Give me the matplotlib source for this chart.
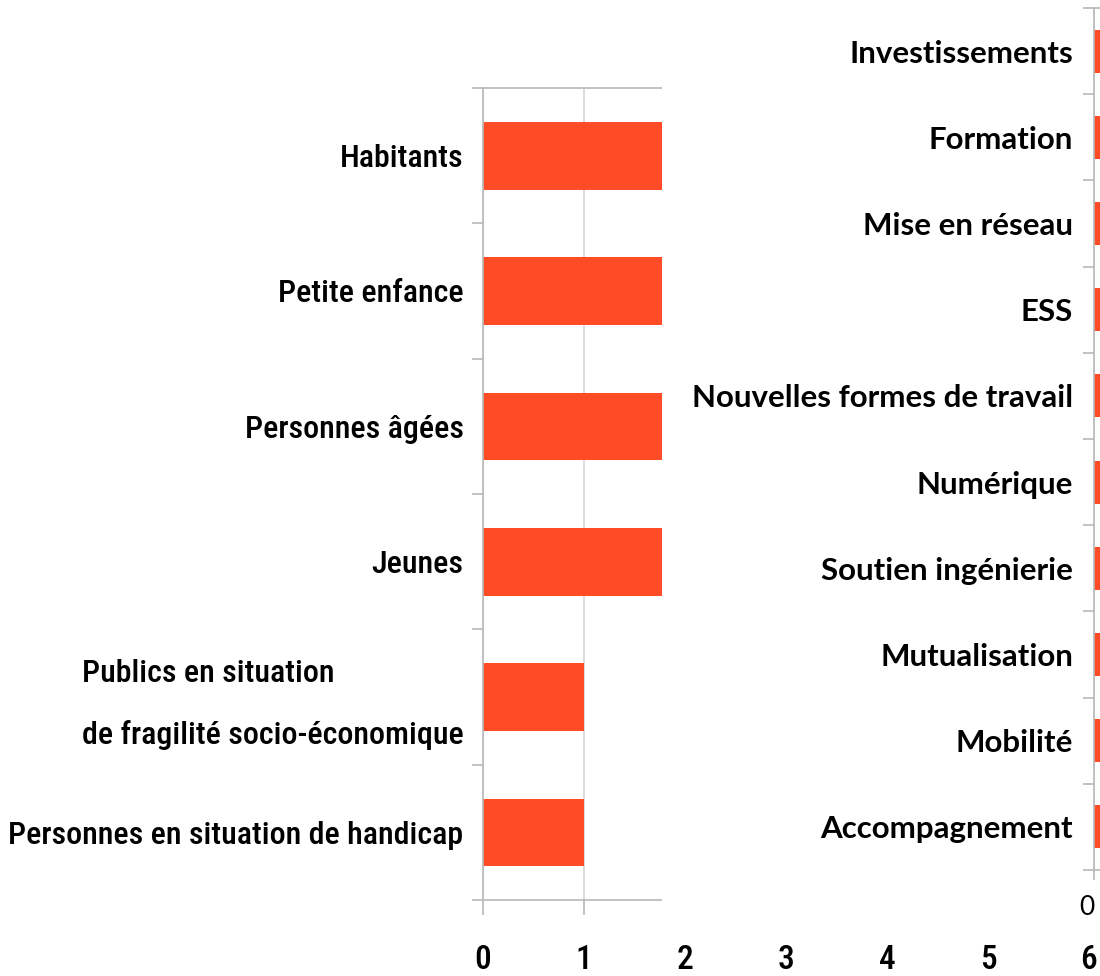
import matplotlib
matplotlib.use('Agg')
import matplotlib.pyplot as plt
from matplotlib.patches import Rectangle
from matplotlib.transforms import ScaledTranslation
import numpy as np

# left chart: publics cibles (bars past 1.8 are hidden by the right panel)
publics = ['Habitants', 'Petite enfance', 'Personnes âgées', 'Jeunes',
           'Publics en situation\nde fragilité socio-économique',
           'Personnes en situation de handicap']
publics_vals = [2, 2, 2, 2, 1, 1]
x_ticks = [0, 1, 2, 3, 4, 5, 6]

# right chart: thématiques (only the start of the bars is visible)
themes = ['Investissements', 'Formation', 'Mise en réseau', 'ESS',
          'Nouvelles formes de travail', 'Numérique', 'Soutien ingénierie',
          'Mutualisation', 'Mobilité', 'Accompagnement']
themes_vals = [2, 3, 2, 1, 1, 2, 3, 2, 1, 4]
themes_ticks = [0, 1, 2, 3, 4, 5, 6]

ORANGE = '#FF4C26'
GREY = '#b8b8b8'
GRID = '#d6d6d6'
COND = ['Roboto Condensed', 'Noto Sans Condensed', 'DejaVu Sans Condensed',
        'Liberation Sans Narrow', 'Noto Sans', 'DejaVu Sans']
SANS = ['Lato', 'DejaVu Sans']

W, H = 1100, 976
fig = plt.figure(figsize=(W / 100, H / 100), dpi=100)


def px(x0, y0, x1, y1):
    # pixel box (from top-left) -> figure fraction
    return [x0 / W, 1 - y1 / H, (x1 - x0) / W, (y1 - y0) / H]


def style(ax, n, ticks):
    ax.set_ylim(n - 0.5, -0.5)
    ax.set_xlim(ticks[0], ticks[-1])
    ax.set_xticks(ticks)
    ax.set_yticks(np.arange(-0.5, n), minor=True)
    ax.grid(axis='x', color=GRID, lw=1.2)
    ax.set_axisbelow(True)
    for s in ['left', 'top', 'bottom']:
        ax.spines[s].set_color(GREY)
        ax.spines[s].set_linewidth(1.2)
    ax.spines['right'].set_visible(False)
    ax.tick_params(axis='y', which='major', length=0)
    ax.tick_params(axis='y', which='minor', length=8, width=1.2, color=GREY)


"""######## LEFT CHART ########"""
ax1 = fig.add_axes(px(483, 88, 1089, 900))
y1 = np.arange(len(publics))
ax1.barh(y1, publics_vals, height=0.5, color=ORANGE, zorder=2)
style(ax1, len(publics), x_ticks)
ax1.set_yticks(y1)
ax1.set_yticklabels(publics, family=COND, fontstretch='condensed',
                    fontweight='medium', fontsize=23)
ax1.tick_params(axis='y', which='major', pad=14)
ax1.tick_params(axis='x', length=11, width=1.2, color=GREY, pad=21)
for lab in ax1.get_yticklabels():
    lab.set_multialignment('left')
    lab.set_linespacing(2.3)
    if '\n' in lab.get_text():
        # two-line label sits a bit higher in the original
        lab.set_transform(lab.get_transform() +
                          ScaledTranslation(0, 0.11, fig.dpi_scale_trans))
for lab in ax1.get_xticklabels():
    lab.set_family(COND)
    lab.set_stretch('condensed')
    lab.set_weight('medium')
    lab.set_fontsize(24)

# white panel of the second chart laid over the first one
fig.add_artist(Rectangle((662 / W, 1 - 935 / H), (W - 662) / W, 935 / H,
                         transform=fig.transFigure, facecolor='white',
                         edgecolor='none', zorder=1))

"""######## RIGHT CHART ########"""
ax2 = fig.add_axes(px(1094, 8, 1094 + 606, 870))
ax2.set_zorder(2)
y2 = np.arange(len(themes))
ax2.barh(y2, themes_vals, height=0.5, color=ORANGE, zorder=2)
style(ax2, len(themes), themes_ticks)
ax2.set_xticks(themes_ticks[:1])  # the rest lies past the picture's edge
ax2.set_yticks(y2)
ax2.set_yticklabels(themes, family=SANS, fontsize=22.5, fontweight='bold')
ax2.tick_params(axis='y', which='major', pad=15)
ax2.tick_params(axis='x', length=7, width=1.2, color=GREY, pad=11)
for lab in ax2.get_xticklabels():
    lab.set_family(SANS)
    lab.set_fontsize(19)
    lab.set_horizontalalignment('right')

fig.savefig('out.png', dpi=100)
